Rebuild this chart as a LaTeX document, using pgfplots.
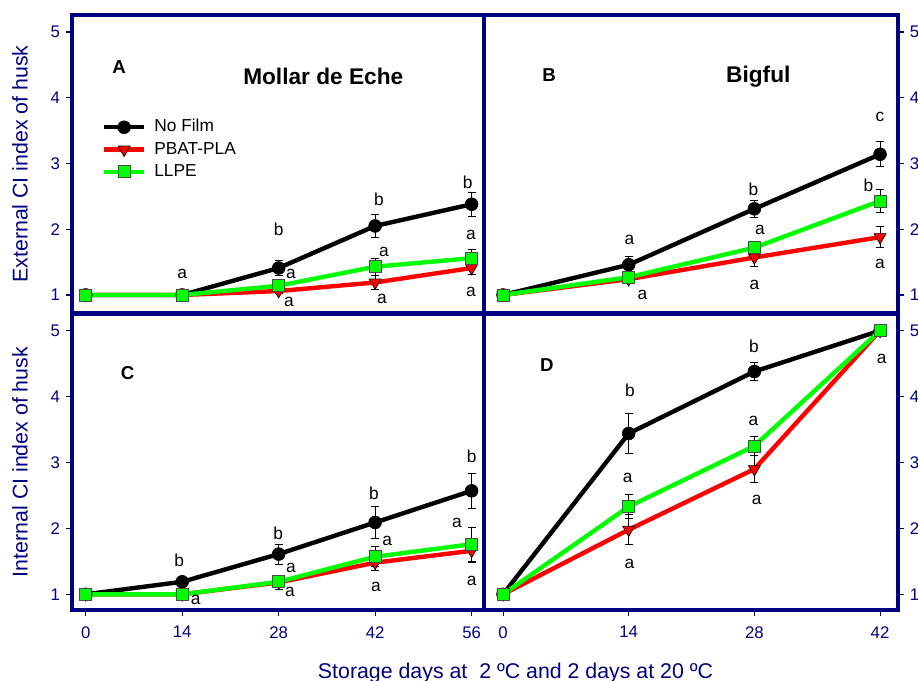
\documentclass[border=0pt]{standalone}
\usepackage{pgfplots}
\pgfplotsset{compat=1.18}
\usepackage{fontspec}
\setmainfont{Liberation Sans}
\definecolor{navy}{RGB}{0,0,128}
\definecolor{limeg}{RGB}{0,255,0}
\definecolor{redd}{RGB}{255,0,0}
\tikzset{
  lt/.style={font=\fontsize{13}{15}\selectfont, inner sep=0pt},
  pl/.style={font=\fontsize{14}{16}\selectfont\bfseries, inner sep=0pt},
  tl/.style={font=\fontsize{17}{19}\selectfont\bfseries, inner sep=0pt},
}
\begin{document}
\begin{tikzpicture}
\pgfplotsset{
  panel/.style={
    scale only axis, clip=false,
    axis line style={draw=navy, line width=2.5pt},
    major tick style={draw=navy, line width=0.8pt},
    tick align=outside, major tick length=4.2pt,
    minor tick num=0,
    ticklabel style={font=\fontsize{12.6}{14}\selectfont, text=navy},
    /pgf/number format/assume math mode=true,
    ytick={1,2,3,4,5},
  },
  leftp/.style={xmin=-1.99, xmax=57.8, width=309pt},
  rightp/.style={xmin=-2.12, xmax=44.0, width=310.5pt},
  topp/.style={ymin=0.726, ymax=5.259, height=223.5pt, xtick=\empty},
  botp/.style={ymin=0.762, ymax=5.253, height=222pt, xtick pos=left,
    xticklabel style={yshift=-4.5pt}},
  ylft/.style={ytick pos=left, yticklabel pos=left, yticklabel style={xshift=-1.2pt}},
  yrgt/.style={ytick pos=right, yticklabel pos=right, yticklabel style={xshift=1.2pt}},
  nofilm/.style={black, line width=3.3pt, mark=*, mark size=4.8pt,
    mark options={solid, fill=black, draw=black, line width=0.5pt},
    error bars/.cd, y dir=both, y explicit,
    error bar style={black, line width=0.7pt},
    error mark options={rotate=90, mark size=3pt, line width=0.7pt, draw=black}},
  pbat/.style={redd, line width=3.3pt, mark=triangle*, mark size=5.2pt,
    mark options={solid, rotate=180, fill=redd, draw=black, line width=0.5pt},
    error bars/.cd, y dir=both, y explicit,
    error bar style={black, line width=0.7pt},
    error mark options={rotate=90, mark size=3pt, line width=0.7pt, draw=black}},
  llpe/.style={limeg, line width=3.3pt, mark=square*, mark size=4.5pt,
    mark options={solid, fill=limeg, draw=black!70, line width=0.5pt},
    error bars/.cd, y dir=both, y explicit,
    error bar style={black, line width=0.7pt},
    error mark options={rotate=90, mark size=3pt, line width=0.7pt, draw=black}},
  every axis y label/.style={at={(axis description cs:-0.126,0.5)}, rotate=90, anchor=center,
    font=\fontsize{16}{18}\selectfont, text=navy},
}

% ---------------- Panel A ----------------
\begin{axis}[panel, leftp, topp, ylft, at={(54pt,276pt)}, anchor=south west,
  ylabel={External CI index of husk},
  legend style={at={(axis description cs:0.072,0.655)}, anchor=north west, draw=none, fill=none,
    inner sep=0pt, font=\fontsize{13}{15}\selectfont, row sep=2.9pt,
    nodes={inner sep=1pt, text height=9.3pt, text depth=2.5pt},
    /tikz/every odd column/.append style={column sep=5pt}},
  legend cell align=left,
  legend image code/.code={\draw[mark repeat=2, mark phase=2, #1] plot coordinates {(0pt,0pt) (15pt,0pt) (30pt,0pt)};},
]
\addplot[nofilm] coordinates {(0,1) +- (0,0) (14,1) +- (0,0) (28,1.41) +- (0,0.11) (42,2.05) +- (0,0.18) (56,2.38) +- (0,0.18)};
\addlegendentry{No Film}
\addplot[pbat] coordinates {(0,1) +- (0,0) (14,1) +- (0,0) (28,1.06) +- (0,0.04) (42,1.19) +- (0,0.10) (56,1.41) +- (0,0.10)};
\addlegendentry{PBAT-PLA}
\addplot[llpe] coordinates {(0,1) +- (0,0) (14,1) +- (0,0) (28,1.14) +- (0,0.05) (42,1.43) +- (0,0.13) (56,1.56) +- (0,0.13)};
\addlegendentry{LLPE}
\node[pl] at (axis cs:4.83,4.46) {A};
\node[tl] at (axis cs:34.47,4.33) {Mollar de Eche};
\node[lt] at (axis cs:14,1.32) {a};
\node[lt] at (axis cs:28,2.00) {b};
\node[lt] at (axis cs:29.78,1.32) {a};
\node[lt] at (axis cs:29.49,0.89) {a};
\node[lt] at (axis cs:42.55,2.46) {b};
\node[lt] at (axis cs:43.28,1.65) {a};
\node[lt] at (axis cs:42.98,0.94) {a};
\node[lt] at (axis cs:55.45,2.72) {b};
\node[lt] at (axis cs:55.9,1.91) {a};
\node[lt] at (axis cs:55.9,1.05) {a};
\end{axis}

% ---------------- Panel B ----------------
\begin{axis}[panel, rightp, topp, yrgt, at={(363pt,276pt)}, anchor=south west]
\addplot[nofilm] coordinates {(0,1) +- (0,0) (14,1.46) +- (0,0.13) (28,2.31) +- (0,0.13) (42,3.14) +- (0,0.19)};
\addplot[pbat] coordinates {(0,1) +- (0,0) (14,1.24) +- (0,0.07) (28,1.57) +- (0,0.13) (42,1.88) +- (0,0.16)};
\addplot[llpe] coordinates {(0,1) +- (0,0) (14,1.27) +- (0,0.05) (28,1.72) +- (0,0.10) (42,2.43) +- (0,0.17)};
\node[pl] at (axis cs:5.12,4.35) {B};
\node[tl] at (axis cs:28.44,4.32) {Bigful};
\node[lt] at (axis cs:14.07,1.84) {a};
\node[lt] at (axis cs:15.52,1.00) {a};
\node[lt] at (axis cs:27.89,2.61) {b};
\node[lt] at (axis cs:28.63,1.99) {a};
\node[lt] at (axis cs:28.0,1.16) {a};
\node[lt] at (axis cs:42.0,3.71) {c};
\node[lt] at (axis cs:40.7,2.67) {b};
\node[lt] at (axis cs:42.0,1.48) {a};
\end{axis}

% ---------------- Panel C ----------------
\begin{axis}[panel, leftp, botp, ylft, at={(54pt,53.25pt)}, anchor=south west,
  xtick={0,14,28,42,56},
  ylabel={Internal CI index of husk},
  xlabel={Storage days at~~2 ºC and 2 days at 20 ºC},
  every axis x label/.style={at={(axis description cs:1.0765,-0.231)}, anchor=base,
    font=\fontsize{16}{18}\selectfont, text=navy},
]
\addplot[nofilm] coordinates {(0,1) +- (0,0) (14,1.19) +- (0,0.04) (28,1.61) +- (0,0.15) (42,2.09) +- (0,0.25) (56,2.57) +- (0,0.27)};
\addplot[pbat] coordinates {(0,1) +- (0,0) (14,1) +- (0,0) (28,1.18) +- (0,0.10) (42,1.48) +- (0,0.12) (56,1.66) +- (0,0.17)};
\addplot[llpe] coordinates {(0,1) +- (0,0) (14,1) +- (0,0) (28,1.19) +- (0,0.07) (42,1.57) +- (0,0.15) (56,1.76) +- (0,0.26)};
\node[pl] at (axis cs:6.09,4.35) {C};
\node[lt] at (axis cs:13.58,1.51) {b};
\node[lt] at (axis cs:15.96,0.91) {a};
\node[lt] at (axis cs:27.94,1.93) {b};
\node[lt] at (axis cs:29.78,1.40) {a};
\node[lt] at (axis cs:29.64,1.03) {a};
\node[lt] at (axis cs:41.83,2.54) {b};
\node[lt] at (axis cs:43.75,1.81) {a};
\node[lt] at (axis cs:42.12,1.11) {a};
\node[lt] at (axis cs:56.0,3.09) {b};
\node[lt] at (axis cs:53.87,2.08) {a};
\node[lt] at (axis cs:56.0,1.20) {a};
\end{axis}

% ---------------- Panel D ----------------
\begin{axis}[panel, rightp, botp, yrgt, at={(363pt,53.25pt)}, anchor=south west,
  xtick={0,14,28,42}]
\addplot[nofilm] coordinates {(0,1) +- (0,0) (14,3.44) +- (0,0.30) (28,4.38) +- (0,0.14) (42,5) +- (0,0)};
\addplot[pbat] coordinates {(0,1) +- (0,0) (14,1.98) +- (0,0.23) (28,2.90) +- (0,0.20) (42,5) +- (0,0)};
\addplot[llpe] coordinates {(0,1) +- (0,0) (14,2.33) +- (0,0.18) (28,3.25) +- (0,0.14) (42,5) +- (0,0)};
\node[pl] at (axis cs:4.87,4.48) {D};
\node[lt] at (axis cs:14.15,4.09) {b};
\node[lt] at (axis cs:13.89,2.76) {a};
\node[lt] at (axis cs:14.07,1.46) {a};
\node[lt] at (axis cs:27.96,4.77) {b};
\node[lt] at (axis cs:27.89,3.63) {a};
\node[lt] at (axis cs:28.26,2.43) {a};
\node[lt] at (axis cs:42.19,4.57) {a};
\end{axis}

\pgfresetboundingbox
\useasboundingbox (0pt,0pt) rectangle (688.5pt,510.75pt);
\end{tikzpicture}
\end{document}
